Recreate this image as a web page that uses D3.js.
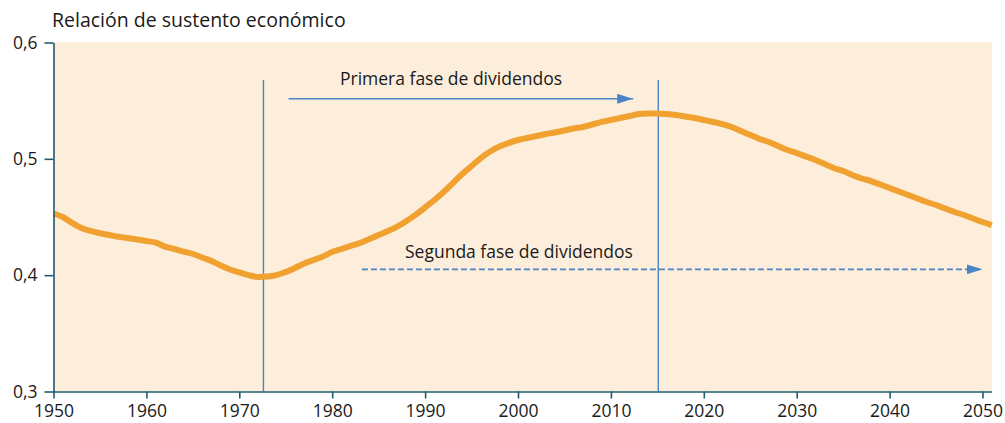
<!DOCTYPE html>
<html>
<head>
<meta charset="utf-8">
<script src="https://cdn.jsdelivr.net/npm/d3@7"></script>
<style>
  body { margin: 0; background: #fff; }
  svg { display: block; font-family: "Open Sans", "Noto Sans", sans-serif; }
</style>
</head>
<body>
<div id="chart"></div>
<script>
// years 1950..2051, one value per year
const years = d3.range(1950, 2052);
const ratio = [
  0.453, 0.450, 0.445, 0.4405, 0.438, 0.436, 0.4345, 0.433, 0.432, 0.4307,
  0.4294, 0.428, 0.4246, 0.4225, 0.4203, 0.4182, 0.4152, 0.4122, 0.4083, 0.4049,
  0.4023, 0.4001, 0.3984, 0.3988, 0.4001, 0.4027, 0.4062, 0.410, 0.413, 0.416,
  0.4199, 0.4225, 0.4251, 0.4276, 0.4311, 0.4345, 0.4379, 0.4418, 0.4466, 0.4521,
  0.4582, 0.4646, 0.4715, 0.4792, 0.487, 0.4938, 0.5007, 0.5063, 0.5106, 0.5136,
  0.5162, 0.5179, 0.5196, 0.5214, 0.5226, 0.5244, 0.5261, 0.5274, 0.5295, 0.5317,
  0.5334, 0.5351, 0.5368, 0.5385, 0.539, 0.539, 0.5385, 0.5377, 0.5364, 0.5351,
  0.5334, 0.5317, 0.5299, 0.5274, 0.5239, 0.5205, 0.5171, 0.5145, 0.511, 0.5076,
  0.505, 0.502, 0.499, 0.4956, 0.4921, 0.4895, 0.4861, 0.4831, 0.4809, 0.4779,
  0.4749, 0.4719, 0.4689, 0.4659, 0.4629, 0.4603, 0.4573, 0.4543, 0.4517, 0.4487,
  0.4457, 0.4431
];
const xTicks = [1950, 1960, 1970, 1980, 1990, 2000, 2010, 2020, 2030, 2040, 2050];
const yTicks = [0.3, 0.4, 0.5, 0.6];
const phaseYears = [1972.6, 2015.1];
const arrow1 = { label: "Primera fase de dividendos", from: 1975.3, to: 2012.4, value: 0.5516 };
const arrow2 = { label: "Segunda fase de dividendos", from: 1983.2, to: 2050, value: 0.405 };

const width = 1005, height = 423;
const margin = { top: 42, right: 13, bottom: 31, left: 53 };

const svg = d3.select("#chart").append("svg")
  .attr("width", width).attr("height", height);

const x = d3.scaleLinear().domain([1950, 2050]).range([margin.left + 0.5, 982.5]);
const y = d3.scaleLinear().domain([0.3, 0.6]).range([height - margin.bottom - 0.5, margin.top + 0.5]);
const xEnd = width - margin.right;

// background
svg.append("rect")
  .attr("x", margin.left).attr("y", margin.top)
  .attr("width", xEnd - margin.left).attr("height", y(0.3) - margin.top)
  .attr("fill", "#fdeedc");

const blue = "#4a84c4";

svg.append("defs").append("marker")
  .attr("id", "head").attr("viewBox", "0 0 16 10")
  .attr("refX", 16).attr("refY", 5)
  .attr("markerWidth", 16).attr("markerHeight", 10)
  .attr("markerUnits", "userSpaceOnUse")
  .attr("orient", "auto")
  .append("path").attr("d", "M0,0 L16,5 L0,10 Z").attr("fill", blue);

// phase boundaries
svg.selectAll(".phase").data(phaseYears).enter()
  .append("line")
  .attr("x1", d => x(d)).attr("x2", d => x(d))
  .attr("y1", 80).attr("y2", y(0.3))
  .attr("stroke", blue).attr("stroke-width", 1.4);

// arrows
svg.append("line")
  .attr("x1", x(arrow1.from)).attr("x2", x(arrow1.to))
  .attr("y1", y(arrow1.value)).attr("y2", y(arrow1.value))
  .attr("stroke", blue).attr("stroke-width", 1.6)
  .attr("marker-end", "url(#head)");

svg.append("line")
  .attr("x1", x(arrow2.from)).attr("x2", x(arrow2.to))
  .attr("y1", y(arrow2.value)).attr("y2", y(arrow2.value))
  .attr("stroke", blue).attr("stroke-width", 1.6)
  .attr("stroke-dasharray", "6,3")
  .attr("marker-end", "url(#head)");

svg.append("text")
  .attr("x", 451).attr("y", 85)
  .attr("text-anchor", "middle")
  .attr("font-size", 17.5).attr("fill", "#1a1a1a")
  .text(arrow1.label);

svg.append("text")
  .attr("x", 405).attr("y", 258)
  .attr("font-size", 17.5).attr("fill", "#1a1a1a")
  .text(arrow2.label);

// data line
const line = d3.line()
  .x((d, i) => x(years[i]))
  .y(d => y(d))
  .curve(d3.curveMonotoneX);

svg.append("path")
  .datum(ratio)
  .attr("d", line)
  .attr("fill", "none")
  .attr("stroke", "#f0a130")
  .attr("stroke-width", 6)
  .attr("stroke-linejoin", "round");

// axes
const axisColor = "#1f5c6e";
const gx = svg.append("g")
  .attr("transform", `translate(0,${y(0.3)})`)
  .call(d3.axisBottom(x).tickValues(xTicks).tickFormat(d3.format("d")).tickSize(7).tickPadding(6).tickSizeOuter(0));
gx.select(".domain").attr("d", `M${margin.left},0.5H${xEnd}`);

const gy = svg.append("g")
  .attr("transform", `translate(${margin.left + 0.5},0)`)
  .call(d3.axisLeft(y).tickValues(yTicks).tickFormat(d => d3.format(".1f")(d).replace(".", ",")).tickSize(9).tickPadding(7).tickSizeOuter(0));

svg.selectAll(".domain, .tick line").attr("stroke", axisColor).attr("stroke-width", 1.6);
svg.selectAll(".tick text").attr("fill", "#1a1a1a").attr("font-size", 17.5)
  .attr("font-family", "'Open Sans', 'Noto Sans', sans-serif");

// y axis title
svg.append("text")
  .attr("x", 52).attr("y", 27)
  .attr("font-size", 19.5).attr("fill", "#1a1a1a")
  .text("Relación de sustento económico");
</script>
</body>
</html>
